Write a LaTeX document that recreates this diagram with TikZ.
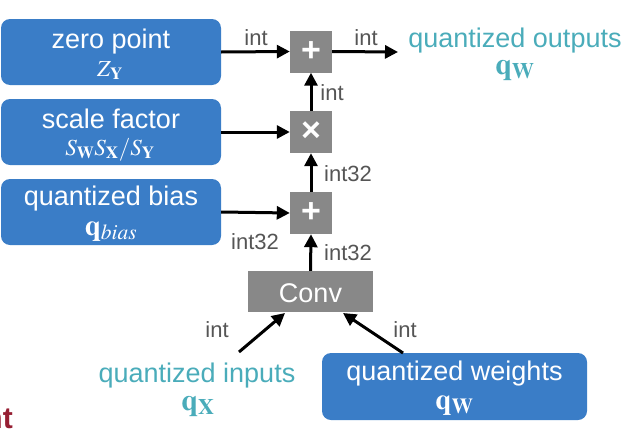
\documentclass[tikz,border=0pt]{standalone}
\usepackage{mathptmx}
\usepackage{fontspec}
\setmainfont{Liberation Sans}
\usetikzlibrary{arrows.meta}
\definecolor{boxblue}{RGB}{58,125,199}
\definecolor{opgray}{RGB}{136,136,136}
\definecolor{tealtxt}{RGB}{74,172,186}
\definecolor{lblgray}{RGB}{85,85,85}
\definecolor{darkred}{RGB}{150,30,50}
\begin{document}
\begin{tikzpicture}[x=1pt,y=-1pt,
  bluebox/.style={fill=boxblue, rounded corners=9pt, inner sep=0pt, minimum width=220pt, minimum height=66pt},
  opbox/.style={fill=opgray, inner sep=0pt, minimum width=42pt, minimum height=42pt, text=white, font=\fontsize{34}{34}\selectfont\bfseries},
  title/.style={text=white, anchor=base, inner sep=0pt, font=\fontsize{27}{30}\selectfont},
  mathw/.style={text=white, anchor=base, inner sep=0pt, font=\fontsize{23}{24}\selectfont},
  mathq/.style={text=white, anchor=base, inner sep=0pt, font=\fontsize{29}{30}\selectfont},
  tealt/.style={text=tealtxt, anchor=base, inner sep=0pt, font=\fontsize{27}{30}\selectfont},
  tealm/.style={text=tealtxt, anchor=base, inner sep=0pt, font=\fontsize{30}{32}\selectfont},
  lbl/.style={text=lblgray, anchor=base, inner sep=0pt, font=\fontsize{22}{24}\selectfont},
  arr/.style={-{Triangle[length=13pt,width=13pt]}, line width=3pt, black}]
\useasboundingbox (0,0) rectangle (632,442);

% blue boxes
\node[bluebox] (zp) at (111,52) {};
\node[title] (zpt) at (111,48) {zero point};
\node[mathw] (zpm) at (110,76) {$Z_{\mathbf{Y}}$};

\node[bluebox] (sf) at (111,132) {};
\node[title] (sft) at (111,128) {scale factor};
\node[mathw] (sfm) at (110,155) {$S_{\mathbf{W}}S_{\mathbf{X}}/S_{\mathbf{Y}}$};

\node[bluebox] (qb) at (111,212) {};
\node[title] (qbt) at (111,205) {quantized bias};
\node[mathq] (qbm) at (111,235) {$\mathbf{q}_{bias}$};

\node[bluebox, minimum width=265pt, minimum height=67pt] (qw) at (454.5,386.5) {};
\node[title] (qwt) at (454.5,380) {quantized weights};
\node[mathq] (qwm) at (454.5,409) {$\mathbf{q}_{\mathbf{W}}$};

% operators
\node[opbox] (add1) at (311,51.5) {+};
\node[opbox] (mul) at (311,132) {×};
\node[opbox] (add2) at (311,213) {+};
\node[fill=opgray, inner sep=0pt, minimum width=125pt, minimum height=41pt] (conv) at (310.5,291.5) {};
\node[title] (convt) at (310.5,302) {Conv};

% outputs / inputs
\node[tealt] (qot) at (515,47) {quantized outputs};
\node[tealm] (qom) at (515,74) {$\mathbf{q}_{\mathbf{W}}$};
\node[tealt] (qit) at (197,382) {quantized inputs};
\node[tealm] (qim) at (198,410) {$\mathbf{q}_{\mathbf{X}}$};

\node[text=darkred, anchor=base east, inner sep=0pt, font=\fontsize{30}{32}\selectfont\bfseries] (nt) at (13,428) {nt};

\coordinate (outend) at (398,52);
\coordinate (instart) at (239,352);
\coordinate (inend) at (285,313);
\coordinate (wstart) at (403,353);
\coordinate (wend) at (343,313);

% connectors
\draw[arr] (zp.east) -- (add1.west);
\draw[arr] (sf.east) -- (mul.west);
\draw[arr] (qb.east) -- (add2.west);
\draw[arr] (add1.east) -- (outend);
\draw[arr] (conv.north) -- (add2.south);
\draw[arr] (add2.north) -- (mul.south);
\draw[arr] (mul.north) -- (add1.south);
\draw[arr] (instart) -- (inend);
\draw[arr] (wstart) -- (wend);

% labels
\node[lbl] (l1) at (256,45) {int};
\node[lbl] (l2) at (366,45) {int};
\node[lbl] (l3) at (332,100) {int};
\node[lbl] (l4) at (348,181) {int32};
\node[lbl] (l5) at (348,260) {int32};
\node[lbl] (l6) at (255,249) {int32};
\node[lbl] (l7) at (217,337) {int};
\node[lbl] (l8) at (405,337) {int};
\end{tikzpicture}
\end{document}
